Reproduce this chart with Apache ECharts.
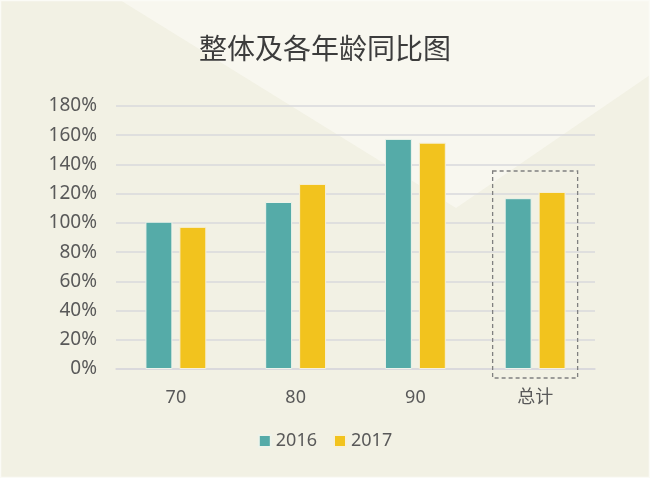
<!DOCTYPE html>
<html>
<head>
<meta charset="utf-8">
<title>整体及各年龄同比图</title>
<script src="https://cdn.jsdelivr.net/npm/echarts@6/dist/echarts.min.js"></script>
<style>
  html, body { margin: 0; padding: 0; background: #f2f1e4; }
  #main { width: 650px; height: 478px; }
</style>
</head>
<body>
<div id="main"></div>
<script>
// 数据
var categories = ['70', '80', '90', '总计']
var data2016 = [100.8, 114.3, 157.5, 116.9]
var data2017 = [97.3, 126.7, 154.9, 121.2]
var yTicks = [0, 20, 40, 60, 80, 100, 120, 140, 160, 180]

var chart = echarts.init(document.getElementById('main'))

var textColor = '#595959'
var fontFamily = '"Noto Sans", "Noto Sans CJK SC", sans-serif'

var option = {
  backgroundColor: '#f2f1e4',
  animation: false,
  title: {
    text: '整体及各年龄同比图',
    left: 'center',
    top: 29,
    textStyle: {
      fontFamily: '"Noto Sans CJK SC", sans-serif',
      fontSize: 28,
      fontWeight: 'normal',
      color: '#3c3c3c'
    }
  },
  legend: {
    data: ['2016', '2017'],
    bottom: 23,
    left: 'center',
    itemWidth: 12,
    itemHeight: 12,
    itemGap: 16,
    icon: 'rect',
    textStyle: { fontFamily: fontFamily, fontSize: 18, color: textColor }
  },
  grid: {
    left: 116,
    right: 55,
    top: 106,
    bottom: 109,
    containLabel: false
  },
  xAxis: {
    type: 'category',
    data: categories,
    axisLine: { show: true, lineStyle: { color: '#d9d8dc', width: 1.5 } },
    axisTick: { show: false },
    axisLabel: { margin: 20, fontFamily: fontFamily, fontSize: 18, color: textColor }
  },
  yAxis: {
    type: 'value',
    min: yTicks[0],
    max: yTicks[yTicks.length - 1],
    interval: yTicks[1] - yTicks[0],
    axisLine: { show: false },
    axisTick: { show: false },
    splitLine: { lineStyle: { color: '#d9d8dc', width: 1.5 } },
    axisLabel: {
      margin: 19,
      fontFamily: fontFamily,
      fontSize: 19,
      color: textColor,
      formatter: '{value}%'
    }
  },
  series: [
    {
      name: '2016',
      type: 'bar',
      data: data2016,
      barWidth: '22.5%',
      barGap: '26%',
      itemStyle: { color: '#55aba8', borderColor: '#eef3ea', borderWidth: 1 }
    },
    {
      name: '2017',
      type: 'bar',
      data: data2017,
      barWidth: '22.5%',
      barGap: '26%',
      itemStyle: { color: '#f2c31e', borderColor: '#f6f0da', borderWidth: 1 }
    }
  ]
}

chart.setOption(option)

// 背景三角 + 总计虚线框
var topLeft = chart.convertToPixel({ xAxisIndex: 0, yAxisIndex: 0 }, ['总计', 135.5])
var base = chart.convertToPixel({ xAxisIndex: 0, yAxisIndex: 0 }, ['总计', 0])
var halfW = 42.5

chart.setOption({
  graphic: [
    {
      type: 'polygon',
      z: -10,
      silent: true,
      shape: { points: [[120, 0], [650, 0], [650, 75], [456, 208]] },
      style: { fill: '#f8f7ef' }
    },
    {
      type: 'rect',
      z: -9,
      silent: true,
      shape: { x: 0.5, y: 0.5, width: 649, height: 477 },
      style: { fill: 'none', stroke: '#fbfbf6', lineWidth: 1.5 }
    },
    {
      type: 'rect',
      z: 10,
      silent: true,
      shape: {
        x: topLeft[0] - halfW,
        y: topLeft[1],
        width: halfW * 2,
        height: base[1] + 9 - topLeft[1]
      },
      style: { fill: 'none', stroke: '#808080', lineWidth: 1.3, lineDash: [4, 3] }
    }
  ]
})
</script>
</body>
</html>
